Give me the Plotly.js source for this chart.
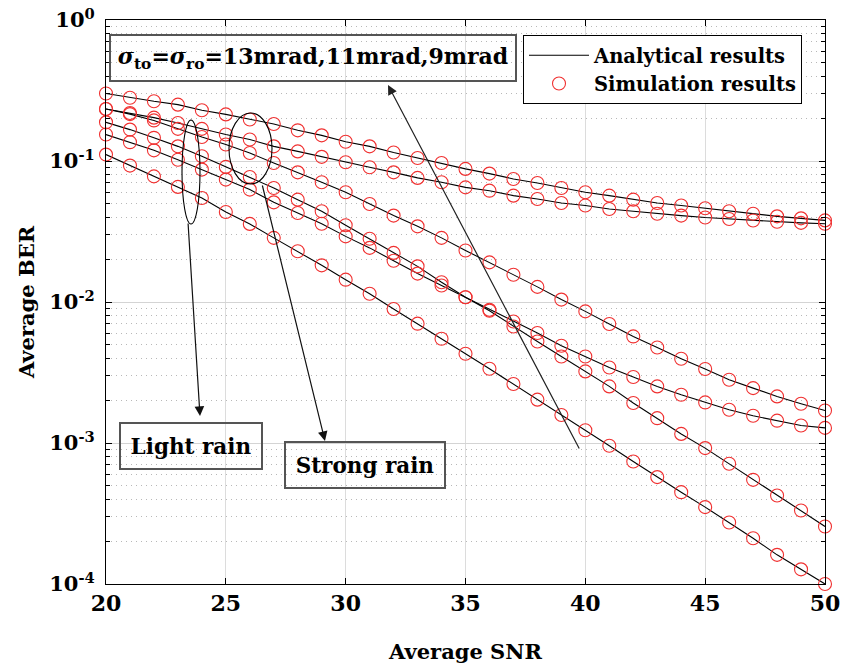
<!DOCTYPE html>
<html><head><meta charset="utf-8">
<script src="https://cdn.plot.ly/plotly-3.0.1.min.js"></script>
<style>html,body{margin:0;padding:0;background:#fff}</style>
</head><body><div id="chart" style="width:841px;height:669px"></div>
<script>
// Average SNR (dB)
const snr = [20,21,22,23,24,25,26,27,28,29,30,31,32,33,34,35,36,37,38,39,40,41,42,43,44,45,46,47,48,49,50];
// Average BER curves (top to bottom at SNR = 50)
const berA = [0.301,0.281,0.265,0.251,0.229,0.214,0.197,0.183,0.165,0.152,0.137,0.127,0.115,0.105,0.0969,0.0879,0.0814,0.0746,0.0699,0.0644,0.0600,0.0568,0.0532,0.0504,0.0483,0.0462,0.0440,0.0423,0.0405,0.0392,0.0379];
const berB = [0.234,0.219,0.203,0.186,0.169,0.154,0.142,0.127,0.117,0.107,0.0979,0.0902,0.0831,0.0759,0.0706,0.0650,0.0616,0.0568,0.0538,0.0504,0.0483,0.0457,0.0440,0.0423,0.0410,0.0397,0.0388,0.0378,0.0371,0.0364,0.0359];
const berC = [0.234,0.215,0.194,0.169,0.148,0.131,0.114,0.0969,0.0831,0.0706,0.0600,0.0496,0.0410,0.0344,0.0285,0.0232,0.0191,0.0156,0.0128,0.0104,0.00858,0.00698,0.00570,0.00476,0.00396,0.00335,0.00281,0.00245,0.00214,0.00190,0.00170];
const berD = [0.154,0.136,0.119,0.102,0.0869,0.0738,0.0627,0.0509,0.0428,0.0359,0.0292,0.0242,0.0196,0.0159,0.0131,0.0108,0.00882,0.00728,0.00603,0.00490,0.00411,0.00343,0.00294,0.00252,0.00220,0.00194,0.00172,0.00156,0.00144,0.00133,0.00128];
const berE = [0.188,0.167,0.146,0.127,0.108,0.0908,0.0771,0.0644,0.0532,0.0440,0.0350,0.0281,0.0223,0.0179,0.0138,0.0108,0.00868,0.00671,0.00525,0.00411,0.00322,0.00252,0.00192,0.00150,0.00116,0.00092,0.000712,0.000548,0.000424,0.000332,0.000256];
const berF = [0.111,0.0928,0.0778,0.0655,0.0547,0.0435,0.0358,0.0285,0.0229,0.0182,0.0144,0.01145,0.00892,0.00702,0.00549,0.00430,0.00336,0.00262,0.00203,0.00158,0.00123,0.000955,0.000739,0.000573,0.000448,0.000351,0.000273,0.000211,0.000161,0.000127,0.000100];
const curves = [berA, berB, berC, berD, berE, berF];
const legendNames = ['Analytical results', 'Simulation results'];
const xTickVals = [20,25,30,35,40,45,50];
const yTickVals = [1, 0.1, 0.01, 0.001, 0.0001];
const yTickText = ['10<sup>0</sup>','10<sup>-1</sup>','10<sup>-2</sup>','10<sup>-3</sup>','10<sup>-4</sup>'];
const sigmaLabel = '<i>σ</i><sub>to</sub>=<i>σ</i><sub>ro</sub>=13mrad,11mrad,9mrad';
const lightLabel = 'Light rain';
const strongLabel = 'Strong rain';

const FONT = 'DejaVu Serif';
const traces = [];
curves.forEach((c, i) => {
  traces.push({x: snr, y: c, type: 'scatter', mode: 'lines', name: legendNames[0],
    showlegend: i === 0, legendrank: 1,
    line: {color: '#000', width: 1.1}});
});
curves.forEach((c, i) => {
  traces.push({x: snr, y: c, type: 'scatter', mode: 'markers', name: legendNames[1],
    showlegend: i === 0, legendrank: 2, cliponaxis: false,
    marker: {symbol: 'circle-open', size: 13, color: '#f03030', line: {width: 1.1, color: '#f03030'}}});
});

// minor tick positions on the log axis (2..9 per decade)
const minorVals = [];
[0.0001, 0.001, 0.01, 0.1].forEach(d => { for (let k = 2; k <= 9; k++) minorVals.push(k * d); });

const L = 106, T = 20, W = 719, H = 564;
const px = v => (v - L) / W;
const py = v => (T + H - v) / H;

const layout = {
  width: 841, height: 669,
  margin: {l: L, r: 841 - L - W, t: T, b: 669 - T - H},
  paper_bgcolor: '#fff', plot_bgcolor: '#fff',
  font: {family: FONT, size: 20, color: '#000', weight: 'bold'},
  showlegend: true,
  legend: {x: px(523), y: py(35), xanchor: 'left', yanchor: 'top',
    bgcolor: '#fff', bordercolor: '#000', borderwidth: 1, itemwidth: 60,
    font: {family: FONT, size: 19.5, weight: 'bold', color: '#000'}, tracegroupgap: 0},
  xaxis: {
    range: [20, 50], tickmode: 'array', tickvals: xTickVals,
    ticks: 'inside', ticklen: 6, tickcolor: '#000', tickwidth: 1,
    showline: true, linecolor: '#000', linewidth: 1, mirror: 'ticks',
    showgrid: true, gridcolor: '#dcdcdc', gridwidth: 1, zeroline: false,
    tickfont: {family: FONT, size: 22, weight: 'bold'},
    title: {text: 'Average SNR', font: {family: FONT, size: 21, weight: 'bold'}, standoff: 28}
  },
  yaxis: {
    type: 'log', range: [-4, 0], tickmode: 'array', tickvals: yTickVals, ticktext: yTickText,
    ticks: 'inside', ticklen: 6, tickcolor: '#000', tickwidth: 1,
    showline: true, linecolor: '#000', linewidth: 1, mirror: 'ticks',
    showgrid: true, gridcolor: '#d4d4d4', gridwidth: 1, zeroline: false,
    ticklabelstandoff: 6,
    tickfont: {family: FONT, size: 21, weight: 'bold'},
    minor: {tickmode: 'array', tickvals: minorVals, ticks: 'inside', ticklen: 4, tickcolor: '#000',
      showgrid: true, gridcolor: '#b8b8b8', griddash: '1px,4px', gridwidth: 1},
    title: {text: 'Average BER', font: {family: FONT, size: 21, weight: 'bold'}, standoff: 8}
  },
  shapes: [
    {type: 'circle', xref: 'paper', yref: 'paper', x0: px(182), x1: px(200), y0: py(224), y1: py(120),
      line: {color: '#000', width: 1.1}},
    {type: 'circle', xref: 'paper', yref: 'paper', x0: px(229), x1: px(272), y0: py(184), y1: py(113),
      line: {color: '#000', width: 1.1}}
  ],
  annotations: [
    {xref: 'paper', yref: 'paper', x: px(313), y: py(58), xanchor: 'center', yanchor: 'middle',
      text: sigmaLabel, showarrow: false, font: {family: FONT, size: 22, weight: 'bold'},
      bordercolor: '#555', borderwidth: 2, borderpad: 4, width: 396, height: 36},
    {xref: 'paper', yref: 'paper', x: px(191), y: py(446), xanchor: 'center', yanchor: 'middle',
      text: lightLabel, showarrow: false, font: {family: FONT, size: 21.5, weight: 'bold'},
      bordercolor: '#555', borderwidth: 2, borderpad: 4, width: 132, height: 36},
    {xref: 'paper', yref: 'paper', x: px(365), y: py(465), xanchor: 'center', yanchor: 'middle',
      text: strongLabel, showarrow: false, font: {family: FONT, size: 21.5, weight: 'bold'},
      bordercolor: '#555', borderwidth: 2, borderpad: 4, width: 150, height: 36},
    {xref: 'paper', yref: 'paper', x: px(388), y: py(85), text: '', showarrow: true,
      ax: 192, ay: 365, arrowhead: 2, arrowsize: 1.6, arrowwidth: 1.2, arrowcolor: '#222', standoff: 0},
    {xref: 'paper', yref: 'paper', x: px(200), y: py(416), text: '', showarrow: true,
      ax: -12, ay: -194, arrowhead: 2, arrowsize: 1.6, arrowwidth: 1.2, arrowcolor: '#111', standoff: 0},
    {xref: 'paper', yref: 'paper', x: px(325), y: py(441), text: '', showarrow: true,
      ax: -63, ay: -257, arrowhead: 2, arrowsize: 1.6, arrowwidth: 1.2, arrowcolor: '#111', standoff: 0}
  ]
};

Plotly.newPlot('chart', traces, layout, {staticPlot: true, displayModeBar: false});
</script>
</body></html>
